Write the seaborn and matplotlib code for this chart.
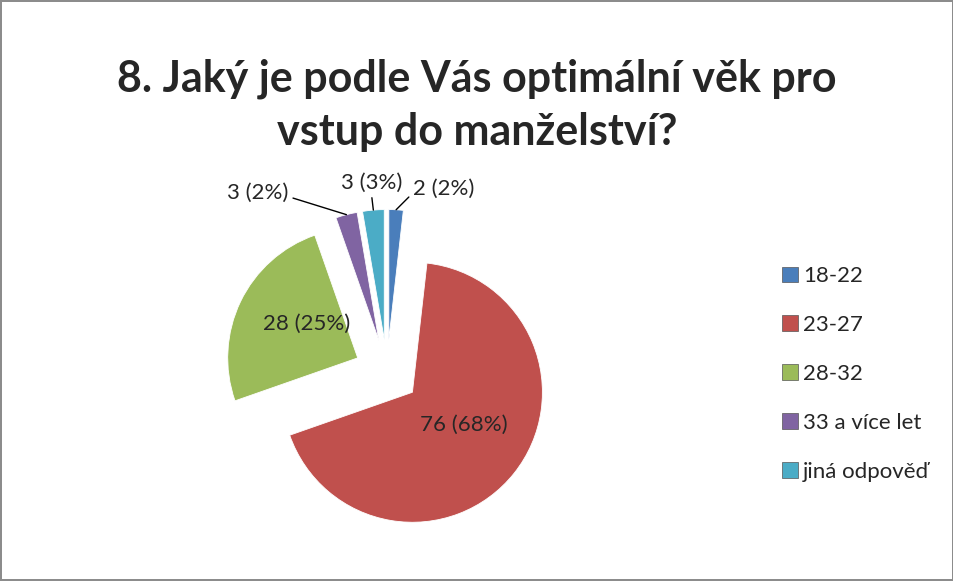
import numpy as np
import matplotlib
matplotlib.use("Agg")
import matplotlib.pyplot as plt
import seaborn as sns

# data
categories = ["18-22", "23-27", "28-32", "33 a více let", "jiná odpověď"]
counts = [2, 76, 28, 3, 3]
percents = ["2%", "68%", "25%", "2%", "3%"]
colors = ["#4A7EBB", "#C0504D", "#9BBB59", "#8064A2", "#4BACC6"]
title_lines = ["8. Jaký je podle Vás optimální věk pro", "vstup do manželství?"]

sns.set_theme(style="white")
plt.rcParams["font.family"] = ["Lato", "DejaVu Sans"]

fig = plt.figure(figsize=(9.54, 5.81), dpi=100)
fig.patch.set_edgecolor("#8c8c8c")
fig.patch.set_linewidth(1.5)

W, H = 954, 581
cx, cy, half = 387, 372, 200
ax = fig.add_axes([(cx - half) / W, (H - cy - half) / H, 2 * half / W, 2 * half / H])

wedges, _ = ax.pie(counts, colors=colors, startangle=90, counterclock=False,
                   explode=[0.25] * len(counts), radius=1.0,
                   wedgeprops=dict(edgecolor="white", linewidth=0.6))
lim = half / 130
ax.set_xlim(-lim, lim)
ax.set_ylim(-lim, lim)
ax.set_aspect("equal")
ax.axis("off")

labels = [f"{c} ({p})" for c, p in zip(counts, percents)]
# offsets (pixels) for the small outside labels
outside = {0: (17, 21, "left"), 3: (-58, 22, "right"), 4: (-2, 27, "center")}
# inside labels: distance from wedge tip, small angle tweak (deg)
inside = {1: (0.47, 6), 2: (0.47, -8)}
for i, w in enumerate(wedges):
    x0, y0 = w.center
    if i in outside:
        th = np.deg2rad((w.theta1 + w.theta2) / 2)
        dx, dy, ha = outside[i]
        tip = (x0 + np.cos(th), y0 + np.sin(th))
        relpos = {"left": (0, 0.3), "right": (1, 0.3), "center": (0.5, 0)}[ha]
        ax.annotate(labels[i], xy=tip, xytext=(dx, dy), textcoords="offset pixels",
                    ha=ha, va="center", fontsize=16,
                    arrowprops=dict(arrowstyle="-", color="black", lw=1,
                                    shrinkA=1, shrinkB=0, relpos=relpos))
    else:
        d, tweak = inside[i]
        th = np.deg2rad((w.theta1 + w.theta2) / 2 + tweak)
        ax.text(x0 + d * np.cos(th), y0 + d * np.sin(th), labels[i],
                ha="center", va="center", fontsize=16)

for k, line in enumerate(title_lines):
    fig.text(0.5, 1 - (79 + 53 * k) / H, line, ha="center", va="center",
             fontsize=31, fontweight="bold")

handles = [plt.Rectangle((0, 0), 1, 1, facecolor=c, edgecolor="#555555", lw=0.5)
           for c in colors]
fig.legend(handles, categories, loc="upper left", bbox_to_anchor=(771 / W, 1 - 255 / H),
           frameon=False, fontsize=16, handlelength=0.7, handleheight=0.7,
           handletextpad=0.25, labelspacing=1.3, borderpad=0)

fig.savefig("out.png", dpi=100)
